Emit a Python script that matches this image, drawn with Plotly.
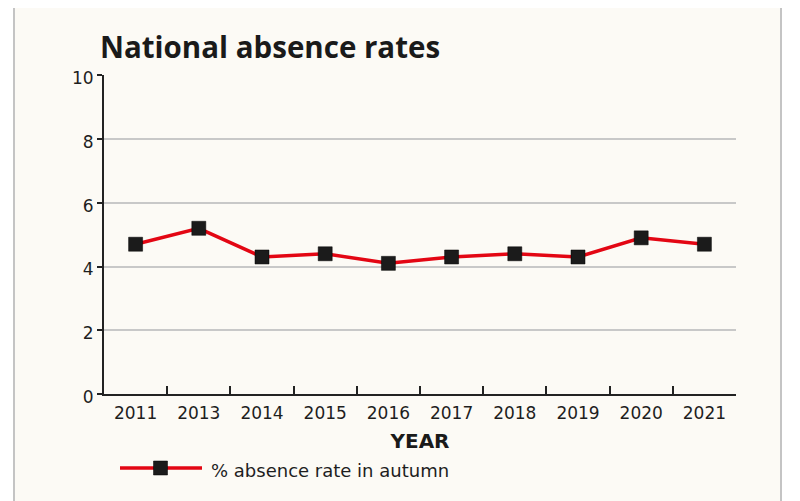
import plotly.graph_objects as go

years = ["2011", "2013", "2014", "2015", "2016", "2017", "2018", "2019", "2020", "2021"]
absence_rate = [4.7, 5.2, 4.3, 4.4, 4.1, 4.3, 4.4, 4.3, 4.9, 4.7]
y_ticks = [0, 2, 4, 6, 8, 10]
series_name = "% absence rate in autumn"

OFF = 8  # page body margin
W, H = 800 - OFF, 501 - OFF
# plot area in screen pixels
SX0, SX1, SY0, SY1 = 104, 736, 75, 394
L, R, T, B = SX0 - OFF, W - (SX1 - OFF), SY0 - OFF, H - (SY1 - OFF)
pw, ph = SX1 - SX0, SY1 - SY0

def px(x):
    return (x - SX0) / pw

def py(y):
    return (SY1 - y) / ph

RED = "#e30613"
DARK = "#1b1b1b"
TXT = "#1e1e1e"

fig = go.Figure()
fig.add_trace(go.Scatter(
    x=years, y=absence_rate, mode="lines+markers",
    name=series_name, showlegend=False,
    line=dict(color=RED, width=3.5),
    marker=dict(symbol="square", size=14, color=DARK,
                line=dict(color="#000000", width=0.5)),
))

# legend glyph (drawn manually so the sample line is as long as the original)
leg_y = 468
shapes = [
    dict(type="rect", xref="paper", yref="paper",
         x0=px(14), x1=px(781), y0=py(520), y1=py(3),
         fillcolor="#fcfaf5", line=dict(color="#c4c4c4", width=2), layer="below"),
    dict(type="line", xref="paper", yref="paper",
         x0=px(120), x1=px(202), y0=py(leg_y), y1=py(leg_y),
         line=dict(color=RED, width=3.5)),
    dict(type="rect", xref="paper", yref="paper",
         x0=px(153.5), x1=px(167.5), y0=py(leg_y + 7), y1=py(leg_y - 7),
         fillcolor=DARK, line=dict(color="#000000", width=0.5)),
]

fig.update_layout(
    width=W, height=H,
    margin=dict(l=L, r=R, t=T, b=B),
    paper_bgcolor="#ffffff",
    plot_bgcolor="rgba(0,0,0,0)",
    title=dict(text="<b>National absence rates</b>", x=(100 - OFF) / W, xanchor="left",
               xref="container", y=1 - (48 - OFF) / H, yanchor="middle", yref="container",
               font=dict(family="Open Sans", size=29.5, color="#1a1a1a")),
    showlegend=False,
    xaxis=dict(
        type="category", categoryorder="array", categoryarray=years,
        range=[-0.5, len(years) - 0.5],
        showline=True, linecolor="#222222", linewidth=2,
        ticks="inside", tickson="boundaries", ticklen=8, tickwidth=2, tickcolor="#222222",
        showgrid=False, zeroline=False,
        tickfont=dict(family="DejaVu Sans", size=17, color=TXT),
        ticklabelstandoff=3,
        title=dict(text="<b>YEAR</b>", standoff=12,
                   font=dict(family="DejaVu Sans", size=20, color="#1a1a1a")),
    ),
    yaxis=dict(
        range=[0, 10.01], tickvals=y_ticks, ticktext=[str(v) for v in y_ticks],
        showline=True, linecolor="#222222", linewidth=2,
        ticks="outside", ticklen=5, tickwidth=1.5, tickcolor="#222222",
        showgrid=True, gridcolor="#c8c8c8", gridwidth=1.5,
        zeroline=False, tickfont=dict(family="DejaVu Sans", size=17, color=TXT),
        ticklabelshift=3, ticklabelstandoff=0,
    ),
    shapes=shapes,
    annotations=[dict(
        xref="paper", yref="paper", x=px(209), y=py(leg_y + 2), xanchor="left", yanchor="middle",
        text=series_name, showarrow=False,
        font=dict(family="DejaVu Sans", size=18, color=TXT),
    )],
)

fig.write_html("out.html")
